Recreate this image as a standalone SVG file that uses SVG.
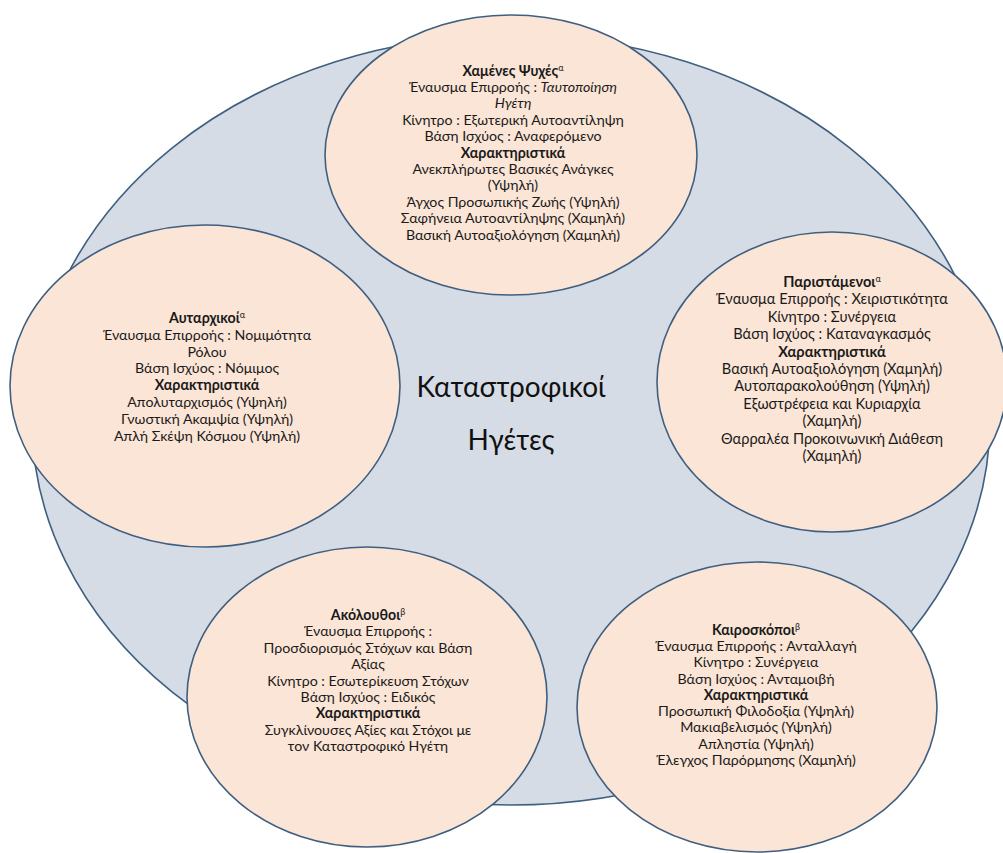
<svg xmlns="http://www.w3.org/2000/svg" width="1003" height="853" viewBox="0 0 1003 853">
<style>
.bg{fill:#ffffff}
.outer{fill:#D6DCE5;stroke:#3F5F80;stroke-width:1.6}
.node{fill:#FBE5D6;stroke:#3F5F80;stroke-width:1.6}
text{font-family:Lato,"Liberation Sans",sans-serif;font-size:14.2px;fill:#1a1a1a;text-anchor:middle}
.r text{font-size:14.6px}
.b{font-weight:bold}
.i{font-style:italic}
.sup{font-size:9px}
.title{font-size:28px;fill:#111}
</style>
<rect class="bg" x="0" y="0" width="1003" height="853"/>
<g id="outer">
<ellipse class="outer" cx="511" cy="420" rx="479" ry="385"/>
<text class="title" x="511" y="397">Καταστροφικοί</text>
<text class="title" x="511" y="450">Ηγέτες</text>
</g>
<g id="connectors"></g>
<g id="node-top">
<ellipse class="node" cx="511" cy="155" rx="186" ry="140"/>
<text x="513" y="76"><tspan class="b">Χαμένες Ψυχές</tspan><tspan class="sup" dy="-5">α</tspan></text>
<text x="513" y="92">Έναυσμα Επιρροής : <tspan class="i">Ταυτοποίηση</tspan></text>
<text x="513" y="108" class="i">Ηγέτη</text>
<text x="513" y="125">Κίνητρο : Εξωτερική Αυτοαντίληψη</text>
<text x="513" y="141">Βάση Ισχύος : Αναφερόμενο</text>
<text x="513" y="158" class="b">Χαρακτηριστικά</text>
<text x="513" y="174">Ανεκπλήρωτες Βασικές Ανάγκες</text>
<text x="513" y="190">(Υψηλή)</text>
<text x="513" y="207">Άγχος Προσωπικής Ζωής (Υψηλή)</text>
<text x="513" y="223">Σαφήνεια Αυτοαντίληψης (Χαμηλή)</text>
<text x="513" y="240">Βασική Αυτοαξιολόγηση (Χαμηλή)</text>
</g>
<g id="node-left">
<ellipse class="node" cx="205" cy="386" rx="195" ry="161"/>
<text x="207" y="323"><tspan class="b">Αυταρχικοί</tspan><tspan class="sup" dy="-5">α</tspan></text>
<text x="207" y="340">Έναυσμα Επιρροής : Νομιμότητα</text>
<text x="207" y="357">Ρόλου</text>
<text x="207" y="373">Βάση Ισχύος : Νόμιμος</text>
<text x="207" y="390" class="b">Χαρακτηριστικά</text>
<text x="207" y="407">Απολυταρχισμός (Υψηλή)</text>
<text x="207" y="424">Γνωστική Ακαμψία (Υψηλή)</text>
<text x="207" y="441">Απλή Σκέψη Κόσμου (Υψηλή)</text>
</g>
<g id="node-right" class="r">
<ellipse class="node" cx="832" cy="382" rx="175" ry="150"/>
<text x="832" y="287"><tspan class="b">Παριστάμενοι</tspan><tspan class="sup" dy="-5">α</tspan></text>
<text x="832" y="304">Έναυσμα Επιρροής : Χειριστικότητα</text>
<text x="832" y="322">Κίνητρο : Συνέργεια</text>
<text x="832" y="339">Βάση Ισχύος : Καταναγκασμός</text>
<text x="832" y="357" class="b">Χαρακτηριστικά</text>
<text x="832" y="374">Βασική Αυτοαξιολόγηση (Χαμηλή)</text>
<text x="832" y="391">Αυτοπαρακολούθηση (Υψηλή)</text>
<text x="832" y="409">Εξωστρέφεια και Κυριαρχία</text>
<text x="832" y="426">(Χαμηλή)</text>
<text x="832" y="444">Θαρραλέα Προκοινωνική Διάθεση</text>
<text x="832" y="461">(Χαμηλή)</text>
</g>
<g id="node-bottom-left">
<ellipse class="node" cx="367" cy="697" rx="180" ry="150"/>
<text x="368" y="620"><tspan class="b">Ακόλουθοι</tspan><tspan class="sup" dy="-5">β</tspan></text>
<text x="368" y="636">Έναυσμα Επιρροής :</text>
<text x="368" y="653">Προσδιορισμός Στόχων και Βάση</text>
<text x="368" y="669">Αξίας</text>
<text x="368" y="686">Κίνητρο : Εσωτερίκευση Στόχων</text>
<text x="368" y="702">Βάση Ισχύος : Ειδικός</text>
<text x="368" y="718" class="b">Χαρακτηριστικά</text>
<text x="368" y="735">Συγκλίνουσες Αξίες και Στόχοι με</text>
<text x="368" y="751">τον Καταστροφικό Ηγέτη</text>
</g>
<g id="node-bottom-right">
<ellipse class="node" cx="757" cy="707" rx="180" ry="145"/>
<text x="756" y="635"><tspan class="b">Καιροσκόποι</tspan><tspan class="sup" dy="-5">β</tspan></text>
<text x="756" y="651">Έναυσμα Επιρροής : Ανταλλαγή</text>
<text x="756" y="667">Κίνητρο : Συνέργεια</text>
<text x="756" y="684">Βάση Ισχύος : Ανταμοιβή</text>
<text x="756" y="700" class="b">Χαρακτηριστικά</text>
<text x="756" y="716">Προσωπική Φιλοδοξία (Υψηλή)</text>
<text x="756" y="732">Μακιαβελισμός (Υψηλή)</text>
<text x="756" y="749">Απληστία (Υψηλή)</text>
<text x="756" y="765">Έλεγχος Παρόρμησης (Χαμηλή)</text>
</g>
</svg>
